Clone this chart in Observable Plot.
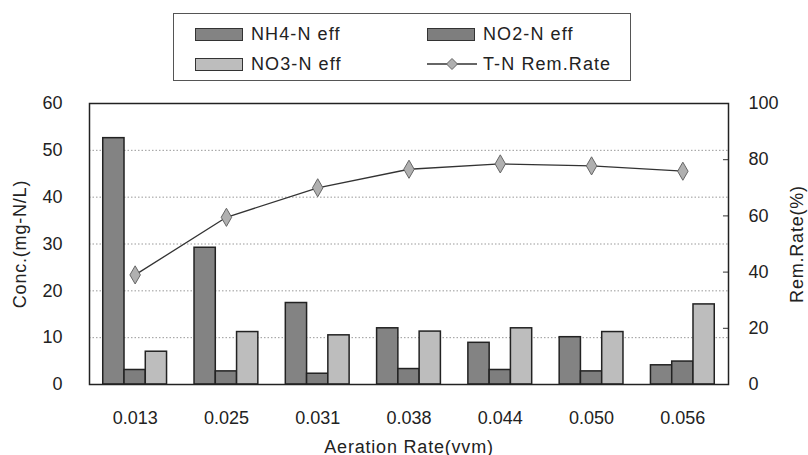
<!DOCTYPE html>
<html>
<head>
<meta charset="utf-8">
<script src="https://cdn.jsdelivr.net/npm/d3@7"></script>
<script src="https://cdn.jsdelivr.net/npm/@observablehq/plot@0.6"></script>
<style>
  html, body { margin: 0; padding: 0; background: #fff; }
  #wrap { position: relative; width: 808px; height: 455px; font-family: "Liberation Sans", Arial, sans-serif; color: #222; }
  #legend { position: absolute; left: 173px; top: 13px; width: 458px; height: 68px; border: 1px solid #555; box-sizing: border-box; }
  .item { position: absolute; height: 20px; display: flex; align-items: center; font-size: 18px; letter-spacing: 1.1px; white-space: nowrap; }
  .sw { width: 48px; height: 13px; border: 1.5px solid #333; box-sizing: border-box; margin-right: 8px; }
  #chart { position: absolute; left: 0; top: 0; }
  #chart svg [aria-label="y-axis label"] text, #chart svg [aria-label="x-axis label"] text { letter-spacing: 0.8px; }
</style>
</head>
<body>
<div id="wrap">
  <div id="chart"></div>
  <div id="legend"></div>
</div>
<script>
// ---- data ----
const categories = ["0.013", "0.025", "0.031", "0.038", "0.044", "0.050", "0.056"];
const seriesNames = ["NH4-N eff", "NO2-N eff", "NO3-N eff"];
const nh4 = [52.6, 29.2, 17.4, 12.0, 8.9, 10.1, 4.1];
const no2 = [3.1, 2.8, 2.3, 3.3, 3.1, 2.8, 4.9];
const no3 = [7.0, 11.2, 10.5, 11.3, 12.0, 11.2, 17.1];
const lineName = "T-N Rem.Rate";
const remRate = [39.0, 59.5, 70.0, 76.6, 78.5, 77.8, 75.9];
const leftTicks = [0, 10, 20, 30, 40, 50, 60];
const rightTicks = [0, 20, 40, 60, 80, 100];
const seriesColors = ["#838383", "#7e7e7e", "#bdbdbd"];

// ---- build tables ----
const barW = 0.233;
const seriesVals = [nh4, no2, no3];
const bars = [];
categories.forEach((c, i) => {
  seriesNames.forEach((s, k) => {
    const center = i + (k - 1) * barW;
    bars.push({cat: i, series: s, value: seriesVals[k][i], x1: center - barW / 2, x2: center + barW / 2});
  });
});
const scaleR = 60 / 100; // right axis (0-100) mapped onto left (0-60)
const rates = remRate.map((v, i) => ({cat: i, v, y: v * scaleR}));
const xMax = categories.length - 0.5;

const chart = Plot.plot({
  width: 808,
  height: 455,
  marginLeft: 89,
  marginRight: 80,
  marginTop: 103,
  marginBottom: 71,
  style: {fontFamily: "'Liberation Sans', Arial, sans-serif", fontSize: "18px", color: "#222", background: "#fff"},
  x: {type: "linear", domain: [-0.5, xMax]},
  y: {domain: [0, 60]},
  color: {domain: seriesNames, range: seriesColors},
  marks: [
    Plot.ruleY(leftTicks.filter(t => t > 0 && t < 60), {stroke: "#999", strokeDasharray: "1.5,2", strokeWidth: 1}),
    Plot.rectY(bars, {x1: "x1", x2: "x2", y1: 0, y2: "value", fill: "series", stroke: "#222", strokeWidth: 1.5}),
    Plot.line(rates, {x: "cat", y: "y", stroke: "#333", strokeWidth: 1.3}),
    Plot.dot(rates, {x: "cat", y: "y", symbol: "diamond", r: 5.5, fill: "#b0b0b0", stroke: "#666", strokeWidth: 1}),
    Plot.ruleY(rightTicks.filter(t => t > 0 && t < 100).map(t => t * scaleR), {x1: xMax - 0.055, x2: xMax, stroke: "#333", strokeWidth: 1}),
    Plot.frame({stroke: "#222", strokeWidth: 1.5}),
    Plot.axisY(leftTicks, {anchor: "left", tickSize: 0, tickPadding: 27, fontSize: 18,
      label: "Conc.(mg-N/L)", labelAnchor: "center", labelArrow: "none", labelOffset: 76}),
    Plot.axisY(rightTicks.map(t => t * scaleR), {anchor: "right", tickSize: 0, tickPadding: 20, fontSize: 18,
      tickFormat: d => String(Math.round(d / scaleR)),
      label: "Rem.Rate(%)", labelAnchor: "center", labelArrow: "none", labelOffset: 74}),
    Plot.axisX(categories.map((c, i) => i), {tickSize: 0, tickPadding: 27, fontSize: 18,
      tickFormat: i => categories[i],
      label: "Aeration Rate(vvm)", labelAnchor: "center", labelArrow: "none", labelOffset: 68})
  ]
});
document.getElementById("chart").appendChild(chart);

// ---- legend ----
const legend = document.getElementById("legend");
const items = [
  {name: seriesNames[0], type: "bar", color: seriesColors[0], left: 21, top: 10},
  {name: seriesNames[1], type: "bar", color: seriesColors[1], left: 253, top: 10},
  {name: seriesNames[2], type: "bar", color: seriesColors[2], left: 21, top: 40},
  {name: lineName, type: "line", left: 253, top: 40}
];
items.forEach(it => {
  const d = document.createElement("div");
  d.className = "item";
  d.style.left = it.left + "px";
  d.style.top = it.top + "px";
  if (it.type === "bar") {
    const s = document.createElement("div");
    s.className = "sw";
    s.style.background = it.color;
    d.appendChild(s);
  } else {
    const ns = "http://www.w3.org/2000/svg";
    const svg = document.createElementNS(ns, "svg");
    svg.setAttribute("width", "50");
    svg.setAttribute("height", "14");
    svg.style.marginRight = "6px";
    const l = document.createElementNS(ns, "line");
    l.setAttribute("x1", "0"); l.setAttribute("x2", "50"); l.setAttribute("y1", "7"); l.setAttribute("y2", "7");
    l.setAttribute("stroke", "#333"); l.setAttribute("stroke-width", "1.3");
    const p = document.createElementNS(ns, "path");
    p.setAttribute("d", "M25,1.5L30.5,7L25,12.5L19.5,7Z");
    p.setAttribute("fill", "#b0b0b0"); p.setAttribute("stroke", "#666");
    svg.appendChild(l); svg.appendChild(p);
    d.appendChild(svg);
  }
  const t = document.createElement("span");
  t.textContent = it.name;
  d.appendChild(t);
  legend.appendChild(d);
});
</script>
</body>
</html>
